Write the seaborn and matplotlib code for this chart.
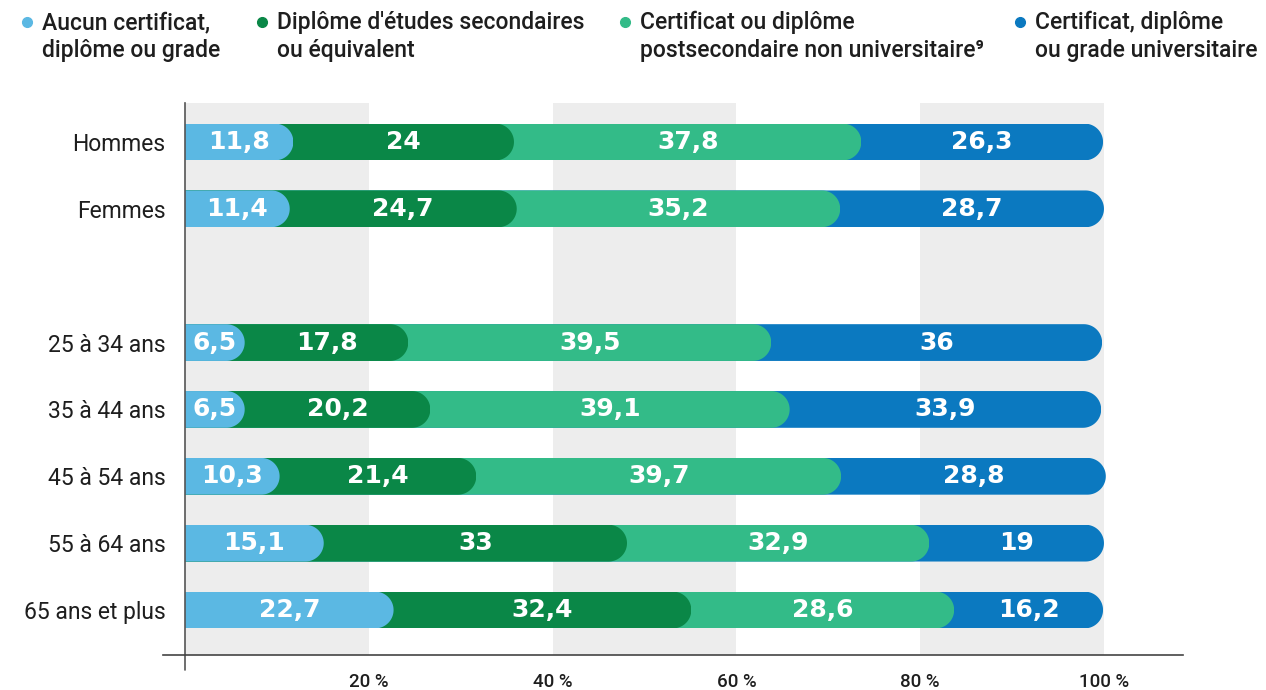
import matplotlib
matplotlib.use('Agg')
import numpy as np
import pandas as pd
import matplotlib.pyplot as plt
import seaborn as sns
from matplotlib.lines import Line2D
from matplotlib.patches import PathPatch
from matplotlib.path import Path

# data
groupes = ['Hommes', 'Femmes', '25 à 34 ans', '35 à 44 ans',
           '45 à 54 ans', '55 à 64 ans', '65 ans et plus']
ordre = ['Hommes', 'Femmes', ' ', '25 à 34 ans', '35 à 44 ans',
         '45 à 54 ans', '55 à 64 ans', '65 ans et plus']
series = ['Aucun certificat,\ndiplôme ou grade',
          "Diplôme d'études secondaires\nou équivalent",
          'Certificat ou diplôme\npostsecondaire non universitaire',
          'Certificat, diplôme\nou grade universitaire']
aucun = [11.8, 11.4, 6.5, 6.5, 10.3, 15.1, 22.7]
secondaire = [24, 24.7, 17.8, 20.2, 21.4, 33, 32.4]
postsec = [37.8, 35.2, 39.5, 39.1, 39.7, 32.9, 28.6]
univ = [26.3, 28.7, 36, 33.9, 28.8, 19, 16.2]
couleurs = ['#5BB8E3', '#0A8747', '#33BB88', '#0B79C0']
xticks = [20, 40, 60, 80, 100]

FONT = ['Roboto', 'DejaVu Sans']
TXT = '#1E1E1E'

sns.set_style('white')
plt.rcParams['font.family'] = FONT

rows = []
for i, g in enumerate(groupes):
    start = 0
    for s, vals in zip(series, [aucun, secondaire, postsec, univ]):
        v = vals[i]
        rows.append({'groupe': g, 'serie': s, 'valeur': v,
                     'debut': start, 'fin': start + v})
        start += v
df = pd.DataFrame(rows)

fig = plt.figure(figsize=(12.66, 6.90), dpi=100)
ax = fig.add_axes([163 / 1266, 35 / 690, 1020 / 1266, 552 / 690])

# back to front so every segment sits on top of the next one
bar_h = 0.55
for s, c in reversed(list(zip(series, couleurs))):
    sub = df[df['serie'] == s]
    sns.barplot(data=sub, x='fin', y='groupe', order=ordre, orient='h',
                color=c, saturation=1, width=bar_h, errorbar=None,
                linewidth=0, ax=ax, zorder=2)
bars = list(ax.patches)

ax.set_xlim(-2.39, 108.6)
ax.set_ylim(7.673, -0.583)

# rounded (half-circle) right end on each bar, done with a clip path
px_x = ax.transData.transform([(1, 0)])[0][0] - ax.transData.transform([(0, 0)])[0][0]
px_y = abs(ax.transData.transform([(0, 1)])[0][1] - ax.transData.transform([(0, 0)])[0][1])
ry = bar_h / 2
rx = ry * px_y / px_x
t = np.linspace(-np.pi / 2, np.pi / 2, 40)
for p in bars:
    x, y, w, h = p.get_x(), p.get_y(), p.get_width(), p.get_height()
    if not np.isfinite(w) or w <= 0:
        continue
    yc = y + h / 2
    xe = x + w - rx
    arc = np.column_stack([xe + rx * np.cos(t), yc + ry * np.sin(t)])
    verts = np.vstack([[x - 5, yc - ry], arc, [x - 5, yc + ry], [x - 5, yc - ry]])
    clip = PathPatch(Path(verts, closed=True), transform=ax.transData)
    p.set_clip_path(clip)

# value labels
for _, r in df.iterrows():
    lab = f"{r['valeur']:g}".replace('.', ',')
    ax.text(r['debut'] + r['valeur'] / 2, ordre.index(r['groupe']), lab,
            ha='center', va='center', color='white', fontsize=18,
            fontweight='bold', family=['DejaVu Sans'], zorder=5)

# grey bands
for a, b in [(0, 20), (40, 60), (80, 100)]:
    ax.axvspan(a, b, color='#EDEDED', lw=0, zorder=0)

ax.set_xticks(xticks)
ax.set_xticklabels([f'{t}\u202f%' for t in xticks], fontsize=13.5, color=TXT,
                   fontweight='medium')
ax.tick_params(axis='x', length=0, pad=13)
ax.tick_params(axis='y', length=0, pad=14, labelsize=16.5, labelcolor=TXT)
for lab in ax.get_yticklabels():
    lab.set_fontweight('medium')
ax.set_xlabel('')
ax.set_ylabel('')

for sp in ['top', 'right']:
    ax.spines[sp].set_visible(False)
ax.spines['left'].set_position(('data', 0))
ax.spines['left'].set_color('#555555')
ax.spines['left'].set_linewidth(1.2)
ax.spines['bottom'].set_color('#444444')
ax.spines['bottom'].set_linewidth(1.2)
ax.axvline(0, ymin=-0.028, ymax=0, clip_on=False, color='#555555', lw=1.2)

# legend across the top
leg_x = [27, 262, 625, 1020]
for lx, s, c in zip(leg_x, series, couleurs):
    fig.add_artist(Line2D([lx / 1266], [1 - 22 / 690], marker='o', color=c,
                          markersize=7, linestyle='none',
                          transform=fig.transFigure))
    txt = s
    if 'postsecondaire' in s:
        txt = s + '\u2079'
    fig.text((lx + 15) / 1266, 1 - 11 / 690, txt, ha='left', va='top',
             fontsize=16.5, fontweight='medium', color=TXT, linespacing=1.25)

fig.savefig('out.png', dpi=100)
